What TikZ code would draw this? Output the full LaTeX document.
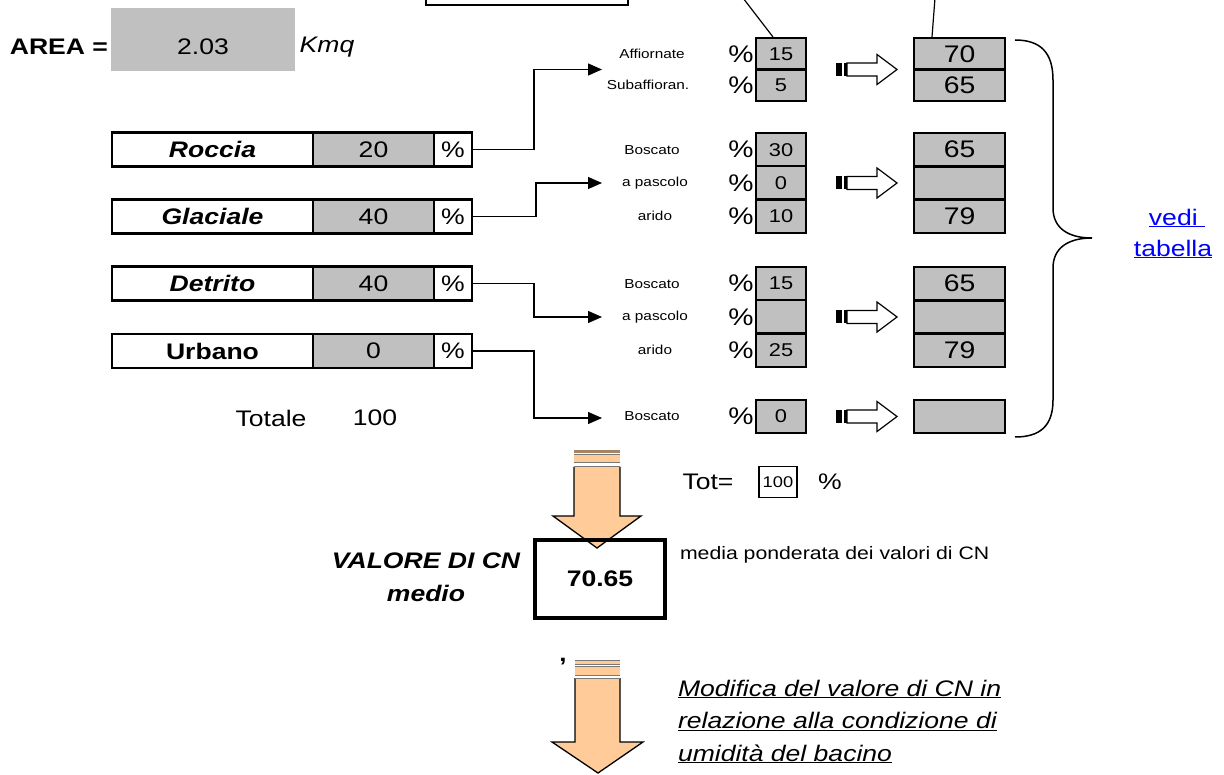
\documentclass[tikz,border=0pt]{standalone}
\usepackage{fontspec}
\setmainfont{Liberation Sans}[FakeStretch=1.18]
\usetikzlibrary{arrows.meta}
\definecolor{cellgrey}{RGB}{192,192,192}
\definecolor{peach}{RGB}{255,204,153}
\definecolor{bandbrown}{RGB}{166,133,100}
\definecolor{bandgrey}{RGB}{120,120,120}
\definecolor{linkblue}{RGB}{0,0,255}
\newcommand\fsz[2]{\fontsize{#1pt}{#2pt}\selectfont}
\newcommand\hollowarrow[1]{%
  \begin{scope}[shift={(0,#1)}]
    \fill (836,-6.5) rectangle (842,6.5);
    \fill (844,-6.5) rectangle (846.5,6.5);
    \draw[line width=1.2pt, fill=white] (847,-6.5) -- (877,-6.5) -- (877,-15) -- (897,0) -- (877,15) -- (877,6.5) -- (847,6.5) -- cycle;
  \end{scope}}
\begin{document}
\begin{tikzpicture}[x=1pt,y=-1pt,
  every node/.style={inner sep=0pt, outer sep=0pt},
  cell/.style={draw, line width=2.6pt, minimum height=34pt},
  lab/.style={cell, fill=white, minimum width=201pt, font=\fsz{22.5}{26}\bfseries\itshape},
  labu/.style={cell, fill=white, minimum width=201pt, font=\fsz{22.5}{26}\bfseries},
  val/.style={cell, fill=cellgrey, minimum width=121pt, font=\fsz{22.5}{26}},
  pct/.style={cell, fill=white, minimum width=38pt, font=\fsz{22.5}{26}},
  conn/.style={line width=1.2pt, -{Triangle[length=14pt,width=12pt]}},
  lbl/.style={font=\fsz{13}{15}},
  pc/.style={font=\fsz{24}{26}},
  sbox/.style={draw, line width=2.3pt, fill=cellgrey, minimum width=50pt, font=\fsz{18.5}{20}},
  cnbox/.style={draw, line width=2.8pt, fill=cellgrey, minimum width=91pt, font=\fsz{24}{26}},
  txt/.style={font=\fsz{22.5}{26}},
  ul/.style={font=\fsz{22.5}{26}\itshape, anchor=base west},
]
\path[use as bounding box] (0,0) rectangle (1224,775);
\clip (0,0) rectangle (1224,775);

% top partial box and leaders
\node[draw, line width=1.3pt, minimum width=202pt, minimum height=40pt] (topbox) at (527,-15) {};
\coordinate (lead1) at (743,-2);
\coordinate (lead2) at (935,-2);

% AREA
\node[txt, font=\fsz{22.5}{26}\bfseries, anchor=east] (area) at (108,47) {AREA =};
\node[fill=cellgrey, minimum width=184pt, minimum height=63pt] (areabox) at (203,39.5) {};
\node[txt] (areav) at (203,47) {2.03};
\node[txt, font=\fsz{22.5}{26}\itshape] (kmq) at (327,47) {Kmq};

% left rows
\node[lab] (rocL) at (212.5,149.5) {Roccia};
\node[val] (rocV) at (373.5,149.5) {20};
\node[pct] (rocP) at (453,149.5) {\%};
\node[lab] (glaL) at (212.5,216.5) {Glaciale};
\node[val] (glaV) at (373.5,216.5) {40};
\node[pct] (glaP) at (453,216.5) {\%};
\node[lab] (detL) at (212.5,283.5) {Detrito};
\node[val] (detV) at (373.5,283.5) {40};
\node[pct] (detP) at (453,283.5) {\%};
\node[labu] (urbL) at (212.5,351) {Urbano};
\node[val] (urbV) at (373.5,351) {0};
\node[pct] (urbP) at (453,351) {\%};
\node[txt] (totale) at (271,418) {Totale};
\node[txt] (totalev) at (375,418) {100};

% group 1
\node[lbl] (l11) at (652,53.75) {Affiornate};
\node[lbl] (l12) at (648,85.25) {Subaffioran.};
\node[pc] (p11) at (741,53.75) {\%};
\node[pc] (p12) at (741,85.25) {\%};
\node[sbox, minimum height=31.5pt] (s11) at (781,53.75) {15};
\node[sbox, minimum height=31.5pt] (s12) at (781,85.25) {5};
\node[cnbox, minimum height=31.5pt] (c11) at (959.5,53.75) {70};
\node[cnbox, minimum height=31.5pt] (c12) at (959.5,85.25) {65};

% group 2
\node[lbl] (l21) at (652,149.7) {Boscato};
\node[lbl] (l22) at (655,183) {a pascolo};
\node[lbl] (l23) at (655,216.3) {arido};
\node[pc] (p21) at (741,149.7) {\%};
\node[pc] (p22) at (741,183) {\%};
\node[pc] (p23) at (741,216.3) {\%};
\node[sbox, minimum height=33.3pt] (s21) at (781,149.7) {30};
\node[sbox, minimum height=33.3pt] (s22) at (781,183) {0};
\node[sbox, minimum height=33.3pt] (s23) at (781,216.3) {10};
\node[cnbox, minimum height=33.3pt] (c21) at (959.5,149.7) {65};
\node[cnbox, minimum height=33.3pt] (c22) at (959.5,183) {};
\node[cnbox, minimum height=33.3pt] (c23) at (959.5,216.3) {79};

% group 3
\node[lbl] (l31) at (652,283.7) {Boscato};
\node[lbl] (l32) at (655,317) {a pascolo};
\node[lbl] (l33) at (655,350.3) {arido};
\node[pc] (p31) at (741,283.7) {\%};
\node[pc] (p32) at (741,317) {\%};
\node[pc] (p33) at (741,350.3) {\%};
\node[sbox, minimum height=33.3pt] (s31) at (781,283.7) {15};
\node[sbox, minimum height=33.3pt] (s32) at (781,317) {};
\node[sbox, minimum height=33.3pt] (s33) at (781,350.3) {25};
\node[cnbox, minimum height=33.3pt] (c31) at (959.5,283.7) {65};
\node[cnbox, minimum height=33.3pt] (c32) at (959.5,317) {};
\node[cnbox, minimum height=33.3pt] (c33) at (959.5,350.3) {79};

% group 4
\node[lbl] (l41) at (652,416.5) {Boscato};
\node[pc] (p41) at (741,416.5) {\%};
\node[sbox, minimum height=33pt] (s41) at (781,416.5) {0};
\node[cnbox, minimum height=33pt] (c41) at (959.5,416.5) {};

% leader lines
\draw[line width=1.2pt] (lead1) -- ([xshift=-8pt,yshift=1pt]s11.north);
\draw[line width=1.2pt] (lead2) -- ([xshift=-27.5pt,yshift=1pt]c11.north);

% hollow arrows
\hollowarrow{69.5}
\hollowarrow{183}
\hollowarrow{317}
\hollowarrow{416.5}

% connectors
\coordinate (t1) at (602,69.5);
\coordinate (t2) at (602,183);
\coordinate (t3) at (602,317);
\coordinate (t4) at (602,418);
\draw[conn] (rocP.east) -- ++(62,0) |- (t1);
\draw[conn] (glaP.east) -- ++(64,0) |- (t2);
\draw[conn] (detP.east) -- ++(62,0) |- (t3);
\draw[conn] (urbP.east) -- ++(62,0) |- (t4);

% brace
\draw[line width=1.5pt] (1015,40) .. controls (1040,40) and (1053,52) .. (1053,80)
  -- (1053,208) .. controls (1053,228) and (1068,238) .. (1092,238)
  .. controls (1068,238) and (1053,248) .. (1053,268)
  -- (1053,400) .. controls (1053,426) and (1040,437) .. (1015,437);
\node[font=\fsz{22.5}{26}, text=linkblue] (vedi) at (1177,218) {\underline{vedi\ }};
\node[font=\fsz{22.5}{26}, text=linkblue] (tabella) at (1173,249) {\underline{tabella}};

% fat arrow 1
\fill[bandbrown] (574,450) rectangle (620,453);
\fill[peach] (574,455.5) rectangle (620,462);
\draw[bandgrey, line width=1pt] (574,455) -- (620,455) (574,462.5) -- (620,462.5);
\fill[peach] (574,467) -- (574,516) -- (553,516) -- (597,548) -- (641,516) -- (620,516) -- (620,467) -- cycle;
\draw[line width=1.3pt] (574,467) -- (574,516) -- (553,516) -- (597,548) -- (641,516) -- (620,516) -- (620,467);
\draw[bandgrey, line width=1pt] (574,467) -- (620,467);

% Tot
\node[txt] (totlab) at (708,482) {Tot=};
\node[draw, line width=1.8pt, minimum width=38pt, minimum height=31pt, font=\fsz{15.5}{17}] (totbox) at (778,482) {100};
\node[txt] (totpct) at (830,482) {\%};

% CN medio
\node[draw, line width=4.5pt, minimum width=130pt, minimum height=78pt, font=\fsz{22.5}{26}\bfseries] (cn) at (600,579) {70.65};
\node[font=\fsz{22.5}{33}\bfseries\itshape, align=center] (valore) at (426,577) {VALORE DI CN\\medio};
\node[font=\fsz{18}{20}, anchor=west] (media) at (680,555) {media ponderata dei valori di CN};

% fat arrow 2
\node[font=\fsz{22}{24}\bfseries] (comma) at (563,662) {,};
\fill[peach] (575,661) rectangle (620,664);
\draw[bandgrey, line width=0.9pt] (575,660.5) -- (620,660.5) (575,664.5) -- (620,664.5);
\fill[peach] (575,667) rectangle (620,675);
\draw[bandgrey, line width=0.9pt] (575,666.5) -- (620,666.5) (575,675.5) -- (620,675.5);
\fill[peach] (575,678) -- (575,742) -- (552,742) -- (598,773) -- (643,742) -- (620,742) -- (620,678) -- cycle;
\draw[line width=1.3pt] (575,678) -- (575,742) -- (552,742) -- (598,773) -- (643,742) -- (620,742) -- (620,678);
\draw[bandgrey, line width=1pt] (575,678) -- (620,678);

% Modifica text
\node[ul] (mod1) at (678,696) {\underline{Modifica del valore di CN in}};
\node[ul] (mod2) at (678,728.5) {\underline{relazione alla condizione di}};
\node[ul] (mod3) at (678,761) {\underline{umidità del bacino}};
\end{tikzpicture}
\end{document}
